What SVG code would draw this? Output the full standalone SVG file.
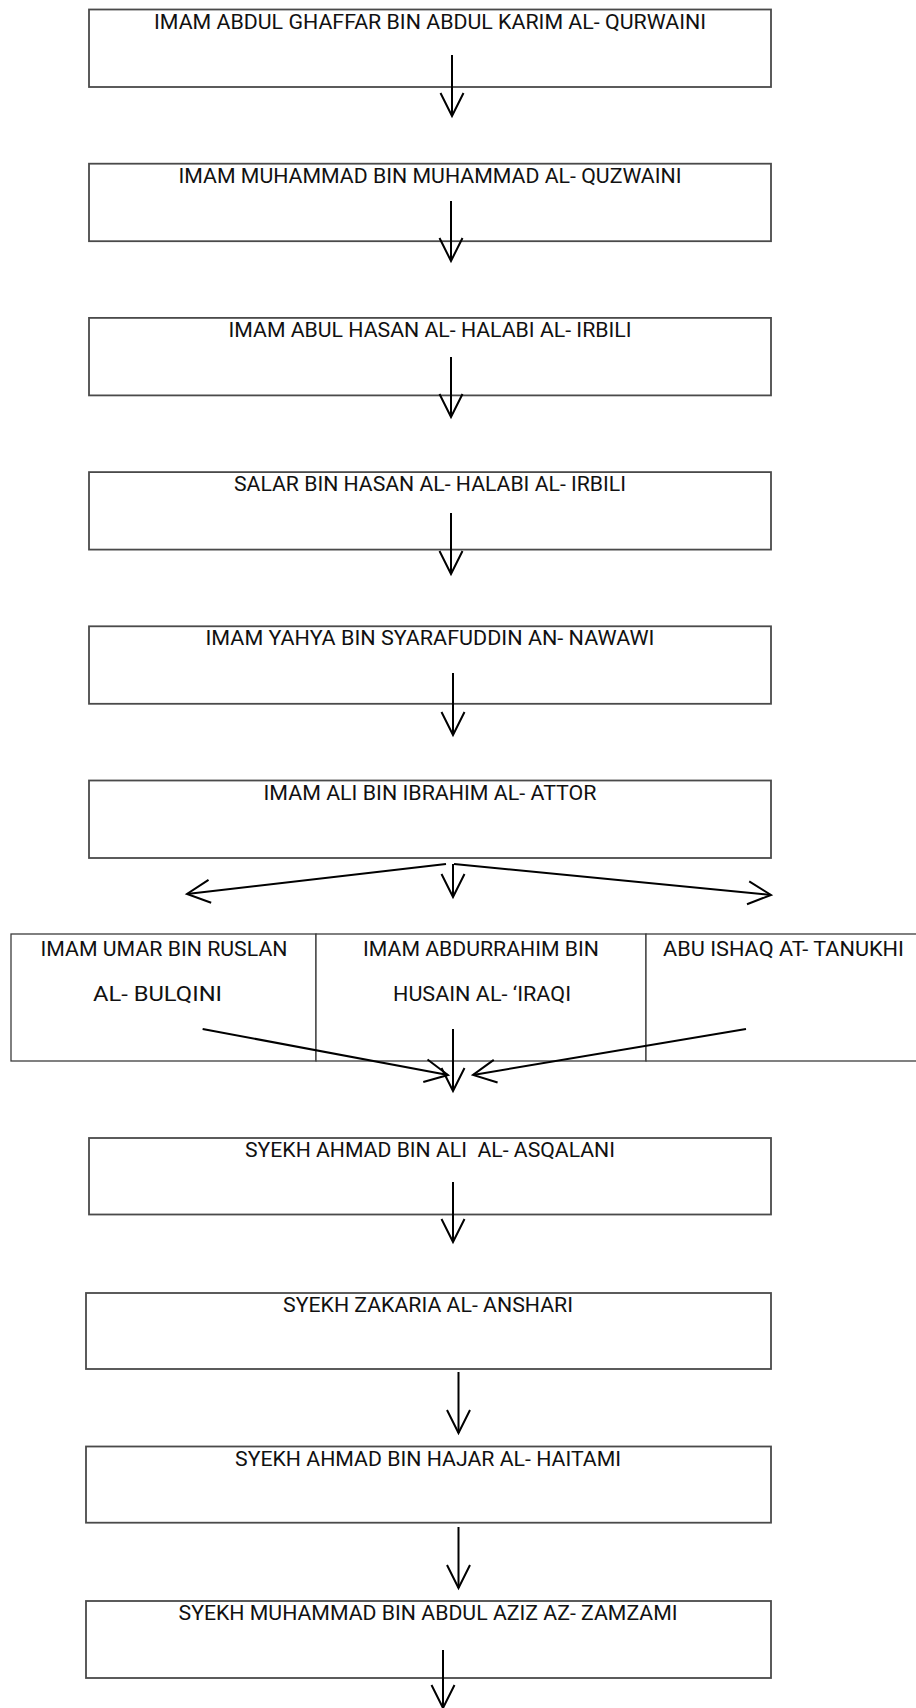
<svg xmlns="http://www.w3.org/2000/svg" width="916" height="1708" viewBox="0 0 916 1708">
  <style>
    .box { fill: #ffffff; stroke: #4a4a4a; stroke-width: 1.8; }
    .tbl { fill: #ffffff; stroke: #3c3c3c; stroke-width: 1.3; }
    .lbl { font-family: Roboto, "Liberation Sans", sans-serif; font-size: 20.5px; fill: #111111; text-anchor: middle; }
    .conn { fill: none; stroke: #000000; stroke-width: 2; marker-end: url(#arr); }
  </style>
  <defs>
    <marker id="arr" markerUnits="userSpaceOnUse" markerWidth="40" markerHeight="40" viewBox="-30 -20 40 40" refX="0" refY="0" orient="auto" overflow="visible">
      <path d="M-23,-11.5 L0,0 L-23,11.5" fill="none" stroke="#000000" stroke-width="2" stroke-linejoin="miter"/>
    </marker>
  </defs>
  <rect width="916" height="1708" fill="#ffffff"/>

  <g id="n1"><rect class="box" x="89" y="9.5" width="682" height="77.5"/><text class="lbl" x="430" y="28.5" textLength="552" lengthAdjust="spacingAndGlyphs">IMAM ABDUL GHAFFAR BIN ABDUL KARIM AL- QURWAINI</text></g>
  <g id="n2"><rect class="box" x="89" y="163.7" width="682" height="77.5"/><text class="lbl" x="430" y="182.7" textLength="503" lengthAdjust="spacingAndGlyphs">IMAM MUHAMMAD BIN MUHAMMAD AL- QUZWAINI</text></g>
  <g id="n3"><rect class="box" x="89" y="317.9" width="682" height="77.5"/><text class="lbl" x="430" y="336.9" textLength="403" lengthAdjust="spacingAndGlyphs">IMAM ABUL HASAN AL- HALABI AL- IRBILI</text></g>
  <g id="n4"><rect class="box" x="89" y="472.1" width="682" height="77.5"/><text class="lbl" x="430" y="491.1" textLength="392" lengthAdjust="spacingAndGlyphs">SALAR BIN HASAN AL- HALABI AL- IRBILI</text></g>
  <g id="n5"><rect class="box" x="89" y="626.3" width="682" height="77.5"/><text class="lbl" x="430" y="645.3" textLength="449" lengthAdjust="spacingAndGlyphs">IMAM YAHYA BIN SYARAFUDDIN AN- NAWAWI</text></g>
  <g id="n6"><rect class="box" x="89" y="780.5" width="682" height="77.5"/><text class="lbl" x="430" y="799.5" textLength="333" lengthAdjust="spacingAndGlyphs">IMAM ALI BIN IBRAHIM AL- ATTOR</text></g>

  <g id="row">
    <g id="n7a"><rect class="tbl" x="11" y="934" width="305" height="127"/><text class="lbl" x="164" y="955.5" textLength="247" lengthAdjust="spacingAndGlyphs">IMAM UMAR BIN RUSLAN</text><text class="lbl" x="157.5" y="1001" textLength="129" lengthAdjust="spacingAndGlyphs">AL- BULQINI</text></g>
    <g id="n7b"><rect class="tbl" x="316" y="934" width="330" height="127"/><text class="lbl" x="481" y="955.5" textLength="236" lengthAdjust="spacingAndGlyphs">IMAM ABDURRAHIM BIN</text><text class="lbl" x="482" y="1001" textLength="178" lengthAdjust="spacingAndGlyphs">HUSAIN AL- ‘IRAQI</text></g>
    <g id="n7c"><rect class="tbl" x="646" y="934" width="300" height="127"/><text class="lbl" x="783.5" y="955.5" textLength="241" lengthAdjust="spacingAndGlyphs">ABU ISHAQ AT- TANUKHI</text></g>
  </g>

  <g id="n8"><rect class="box" x="89" y="1138" width="682" height="76.5"/><text class="lbl" x="430" y="1157" textLength="370" lengthAdjust="spacingAndGlyphs" xml:space="preserve">SYEKH AHMAD BIN ALI  AL- ASQALANI</text></g>
  <g id="n9"><rect class="box" x="86" y="1293" width="685" height="76"/><text class="lbl" x="428" y="1312" textLength="290" lengthAdjust="spacingAndGlyphs">SYEKH ZAKARIA AL- ANSHARI</text></g>
  <g id="n10"><rect class="box" x="86" y="1446.5" width="685" height="76.2"/><text class="lbl" x="428" y="1465.5" textLength="386" lengthAdjust="spacingAndGlyphs">SYEKH AHMAD BIN HAJAR AL- HAITAMI</text></g>
  <g id="n11"><rect class="box" x="86" y="1601" width="685" height="77"/><text class="lbl" x="428" y="1620" textLength="499" lengthAdjust="spacingAndGlyphs">SYEKH MUHAMMAD BIN ABDUL AZIZ AZ- ZAMZAMI</text></g>

  <g id="connectors">
    <line class="conn" x1="452" y1="55" x2="452" y2="116"/>
    <line class="conn" x1="451" y1="201" x2="451" y2="261"/>
    <line class="conn" x1="451" y1="357" x2="451" y2="417"/>
    <line class="conn" x1="451" y1="513" x2="451" y2="574"/>
    <line class="conn" x1="453" y1="673" x2="453" y2="735"/>
    <line class="conn" x1="446" y1="864" x2="187" y2="894"/>
    <line class="conn" x1="453" y1="864" x2="453" y2="897"/>
    <line class="conn" x1="454" y1="864" x2="771" y2="895"/>
    <line class="conn" x1="202.6" y1="1029" x2="448" y2="1075"/>
    <line class="conn" x1="453" y1="1029" x2="453" y2="1091"/>
    <line class="conn" x1="746" y1="1029" x2="473" y2="1075"/>
    <line class="conn" x1="453" y1="1182" x2="453" y2="1242"/>
    <line class="conn" x1="458.5" y1="1372" x2="458.5" y2="1433"/>
    <line class="conn" x1="458.5" y1="1527" x2="458.5" y2="1588"/>
    <line class="conn" x1="443" y1="1650" x2="443" y2="1708"/>
  </g>
</svg>
